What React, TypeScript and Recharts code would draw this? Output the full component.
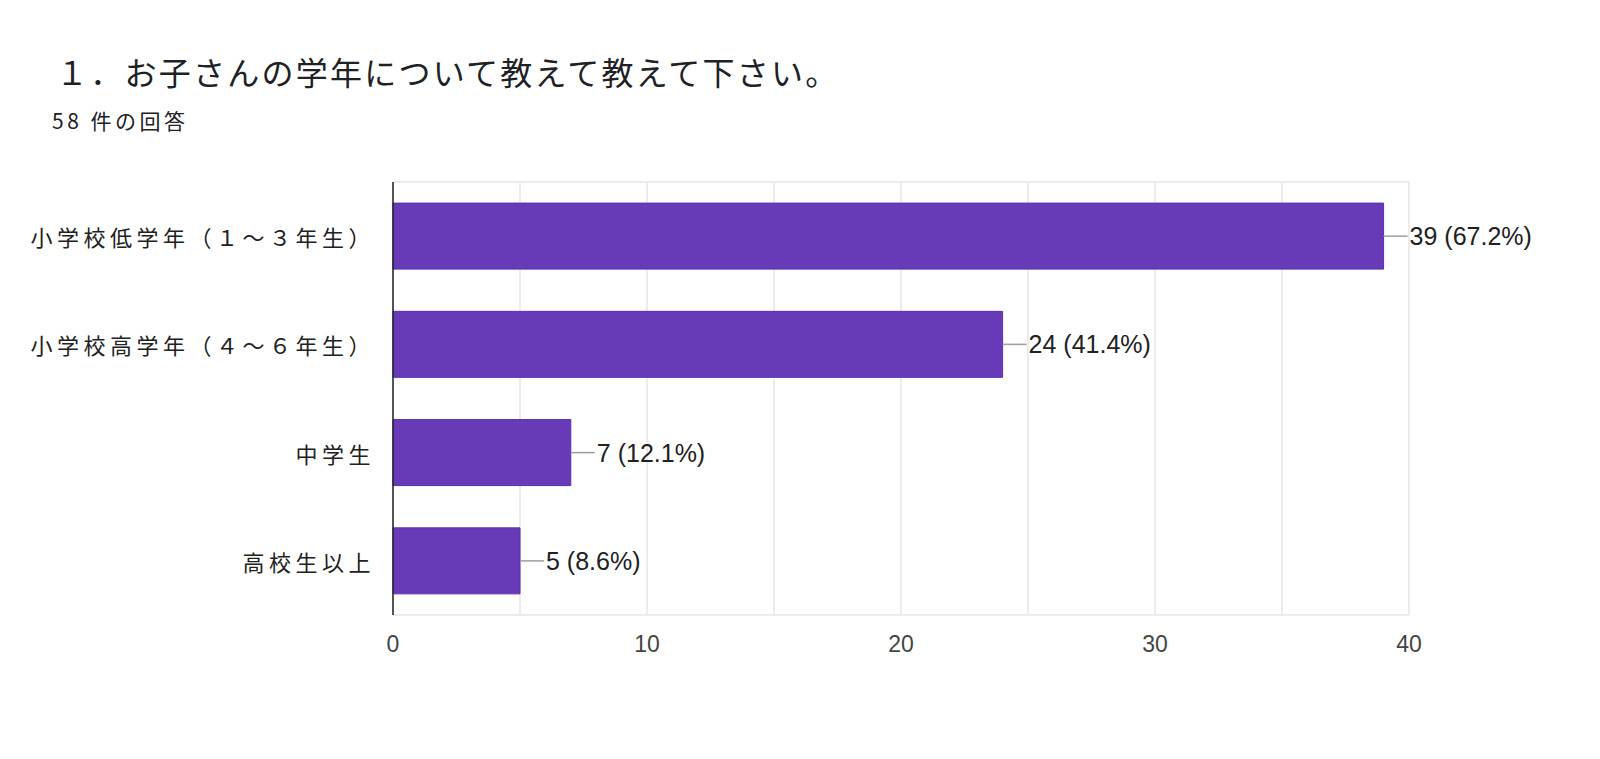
import { BarChart, Bar, XAxis, YAxis, CartesianGrid, LabelList } from 'recharts';

const categories = ['小学校低学年（１～３年生）', '小学校高学年（４～６年生）', '中学生', '高校生以上'];
const counts = [39, 24, 7, 5];
const percents = ['67.2%', '41.4%', '12.1%', '8.6%'];
const gridTicks = [0, 5, 10, 15, 20, 25, 30, 35, 40];
const labeledTicks = [0, 10, 20, 30, 40];

const data = categories.map((name, i) => ({ name, value: counts[i], pct: percents[i] }));

const LATIN = 'Arial, "Liberation Sans", "Noto Sans CJK JP", sans-serif';
const CJK = '"Noto Sans CJK JP", "Liberation Sans", sans-serif';

function ValueLabel(props: any) {
  const { x, y, width, height, index } = props;
  const endX = x + width;
  const cy = y + height / 2;
  const d = data[index];
  return (
    <g>
      <line x1={endX} y1={cy} x2={endX + 24} y2={cy} stroke="#9e9e9e" strokeWidth={1.5} />
      <text x={endX + 26} y={cy} dominantBaseline="central" fill="#212121" fontSize={25} fontFamily={LATIN}>
        {`${d.value} (${d.pct})`}
      </text>
    </g>
  );
}

function CategoryTick(props: any) {
  const { x, y, payload } = props;
  return (
    <text x={x} y={y} textAnchor="end" dominantBaseline="central" fill="#212121" fontSize={22} fontFamily={CJK} style={{ letterSpacing: 4.5 }}>
      {payload.value}
    </text>
  );
}

export default function App() {
  return (
    <div style={styles.page}>
      <div style={styles.title}>１．お子さんの学年について教えて教えて下さい。</div>
      <div style={styles.subtitle}>58 件の回答</div>
      <div style={{ position: 'absolute', left: 0, top: 0 }}>
        <BarChart
          width={1600}
          height={759}
          data={data}
          layout="vertical"
          margin={{ top: 182, right: 191, bottom: 114, left: 0 }}
          barCategoryGap="19.5%"
        >
          <CartesianGrid
            stroke="#ececec"
            strokeWidth={2}
            horizontalCoordinatesGenerator={({ offset }: any) => [offset.top, offset.top + offset.height]}
          />
          <XAxis
            type="number"
            domain={[0, 40]}
            ticks={gridTicks}
            height={30}
            axisLine={false}
            tickLine={false}
            tickMargin={15}
            tick={{ fill: '#444', fontSize: 23, fontFamily: LATIN }}
            tickFormatter={(v: number) => (labeledTicks.includes(v) ? String(v) : '')}
          />
          <YAxis
            type="category"
            dataKey="name"
            width={393}
            axisLine={{ stroke: '#222', strokeWidth: 1.5 }}
            tickLine={false}
            tickSize={0}
            tickMargin={18}
            tick={<CategoryTick />}
          />
          <Bar dataKey="value" fill="#673ab7" stroke="#5a2eaf" strokeWidth={1} isAnimationActive={false}>
            <LabelList dataKey="value" content={<ValueLabel />} />
          </Bar>
        </BarChart>
      </div>
    </div>
  );
}

const styles: Record<string, React.CSSProperties> = {
  page: { position: 'absolute', left: 0, top: 0, width: 1600, height: 759, background: '#fff', overflow: 'hidden' },
  title: {
    position: 'absolute', left: 56, top: 51, fontSize: 32, fontFamily: CJK, color: '#202124',
    letterSpacing: 2.25, whiteSpace: 'nowrap', lineHeight: '40px', zIndex: 1,
  },
  subtitle: {
    position: 'absolute', left: 52, top: 106, fontSize: 21, fontFamily: CJK, color: '#202124',
    letterSpacing: 3.5, whiteSpace: 'nowrap', lineHeight: '28px', zIndex: 1,
  },
};
